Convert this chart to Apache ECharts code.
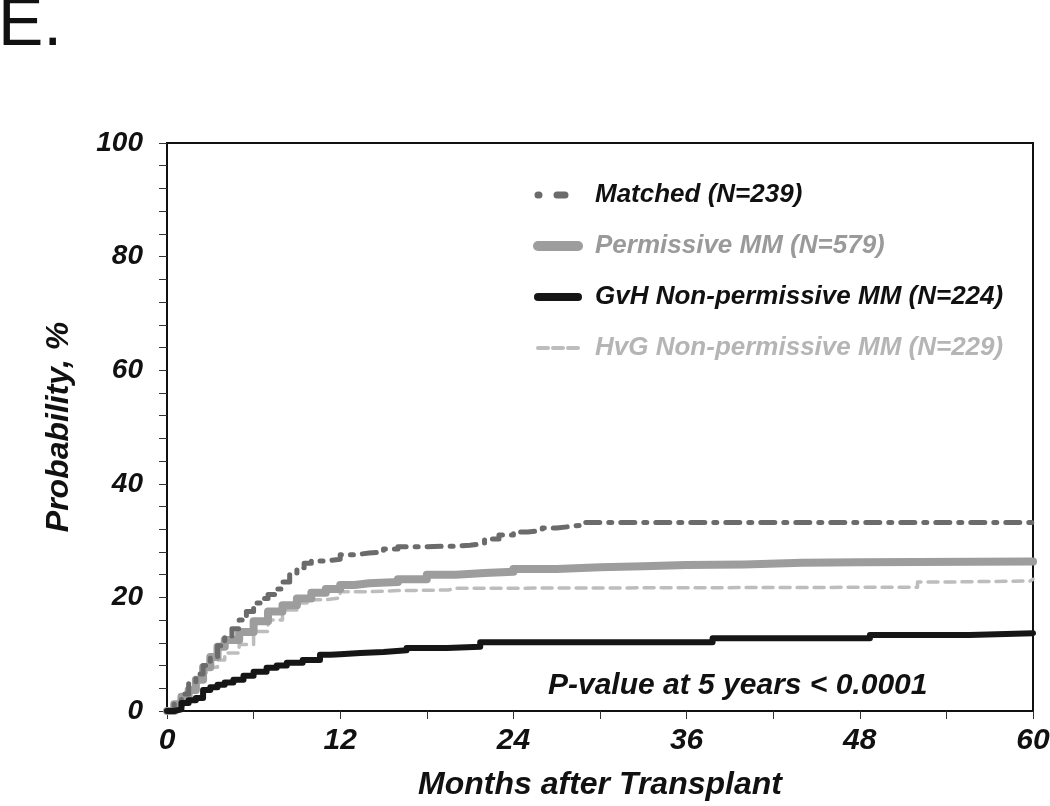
<!DOCTYPE html>
<html>
<head>
<meta charset="utf-8">
<script src="https://cdn.jsdelivr.net/npm/echarts@6/dist/echarts.min.js"></script>
<style>html,body{margin:0;padding:0;background:#fff;}#c{width:1050px;height:806px;}</style>
</head>
<body>
<div id="c"></div>
<script>
// ---- data (months after transplant, cumulative probability %) ----
const matchedMonths = [0, 0.5, 1, 1.5, 2, 2.5, 3, 3.5, 4, 4.5, 5, 5.5, 6, 6.5, 7, 7.5, 8, 8.5, 9, 9.5, 10, 11, 12, 13, 14, 15, 16, 18, 19, 20, 21, 22, 23, 24, 25, 26, 27, 28, 29, 60];
const matchedProb   = [0, 1.5, 3, 5, 6.5, 8, 9.5, 11.5, 13, 14.5, 16, 17.5, 19, 19.8, 20.5, 21.5, 22.7, 24, 25.2, 26, 26.4, 26.7, 27.5, 27.8, 28, 28.5, 28.9, 29, 29, 29.2, 29.5, 30.3, 31, 31.5, 31.8, 32.2, 32.5, 32.8, 33.2, 33.2];

const permMonths = [0, 0.5, 1, 1.5, 2, 2.5, 3, 3.5, 4, 5, 6, 7, 8, 9, 10, 11, 12, 13, 14, 16, 18, 20, 22, 24, 27, 30, 33, 36, 40, 44, 48, 60];
const permProb   = [0, 1.2, 2.5, 3.7, 5.5, 7.7, 9.5, 11.3, 12.5, 13.9, 15.8, 17.5, 18.6, 19.8, 20.8, 21.5, 22.2, 22.5, 22.7, 23.2, 24, 24.3, 24.5, 25, 25.3, 25.5, 25.7, 25.8, 26.1, 26.2, 26.3, 26.3];

const gvhMonths = [0, 0.5, 1, 1.5, 2, 2.5, 3, 3.5, 4, 4.6, 5.3, 6, 6.9, 7.6, 8.3, 9.4, 10.6, 11.3, 12, 13.4, 15, 16.6, 19.4, 21.7, 37.8, 48.7, 55.6, 60];
const gvhProb   = [0, 0.3, 1.4, 1.9, 2.3, 3.7, 4.2, 4.6, 5.0, 5.5, 6.2, 6.9, 7.6, 8.0, 8.5, 9.0, 9.9, 10.0, 10.2, 10.4, 10.7, 11.1, 11.3, 12.1, 12.8, 13.4, 13.7, 13.7];

const hvgMonths = [0, 0.5, 1, 1.5, 2, 2.5, 3, 3.5, 4, 5, 6, 7, 8, 9, 10, 11, 12, 14, 16, 19.5, 20, 52, 54, 59.8, 60];
const hvgProb   = [0, 1.5, 3, 4.3, 5.5, 6.8, 7.7, 9, 10.2, 11.7, 14, 16, 17.8, 19, 19.6, 19.9, 21, 21.2, 21.3, 21.6, 21.8, 22.7, 22.9, 23.2, 23.2];

const seriesNames = ['Matched (N=239)', 'Permissive MM (N=579)', 'GvH Non-permissive MM (N=224)', 'HvG Non-permissive MM (N=229)'];
const xTicks = [0, 12, 24, 36, 48, 60];
const yTicks = [0, 20, 40, 60, 80, 100];
const pValueText = 'P-value at 5 years < 0.0001';
const panelLabel = 'E.';

const zip = (a, b) => a.map((v, i) => [v, b[i]]);
const FONT = '"Liberation Sans", Arial, sans-serif';

const styles = [
  { color: '#6b6b6b', width: 5, type: [14, 9, 3, 9], legendType: [1, 18, 8, 40], text: '#111', z: 4 },
  { color: '#9d9d9d', width: 8, type: 'solid', legendType: 'solid', text: '#9a9a9a', z: 3 },
  { color: '#161616', width: 6, type: 'solid', legendType: 'solid', text: '#111', z: 5 },
  { color: '#bdbdbd', width: 3.5, type: [10, 7], legendType: [10, 5], text: '#b5b5b5', z: 2 }
];
const datasets = [zip(matchedMonths, matchedProb), zip(permMonths, permProb), zip(gvhMonths, gvhProb), zip(hvgMonths, hvgProb)];

const chart = echarts.init(document.getElementById('c'), null, { renderer: 'canvas' });
chart.setOption({
  animation: false,
  backgroundColor: '#fff',
  title: [{
    text: panelLabel, left: -7, top: -13,
    textStyle: { fontFamily: FONT, fontSize: 68, fontWeight: 'normal', color: '#111' }
  }],
  grid: { left: 167, right: 17, top: 143, bottom: 95, show: true, borderColor: '#111', borderWidth: 2,
    containLabel: false, outerBoundsMode: 'none' },
  legend: {
    orient: 'vertical', left: 528, top: 177, itemWidth: 40, itemHeight: 24, itemGap: 25,
    textStyle: { fontFamily: FONT, fontSize: 26, fontWeight: 'bold', fontStyle: 'italic', padding: [0, 0, 0, 12] },
    data: seriesNames.map((n, i) => ({
      name: n,
      textStyle: { color: styles[i].text },
      itemStyle: { opacity: 0 },
      lineStyle: { width: i === 3 ? 4 : styles[i].width + 2, type: styles[i].legendType, color: styles[i].color, cap: 'round', opacity: 1 }
    }))
  },
  xAxis: {
    type: 'value', min: 0, max: 60, interval: 12,
    name: 'Months after Transplant', nameLocation: 'middle', nameGap: 58,
    nameTextStyle: { fontFamily: FONT, fontSize: 32, fontWeight: 'bold', fontStyle: 'italic', color: '#111' },
    axisLine: { lineStyle: { color: '#111', width: 2 } },
    axisTick: { show: true, length: 8, inside: false, lineStyle: { color: '#333', width: 1 } },
    minorTick: { show: true, splitNumber: 2, length: 8, lineStyle: { color: '#333', width: 1 } },
    splitLine: { show: false },
    axisLabel: { margin: 15, fontFamily: FONT, fontSize: 30, fontWeight: 'bold', fontStyle: 'italic', color: '#111',
      formatter: v => xTicks.includes(v) ? String(v) : '' }
  },
  yAxis: {
    type: 'value', min: 0, max: 100, interval: 20,
    name: 'Probability, %', nameLocation: 'middle', nameGap: 92, nameRotate: 90,
    nameTextStyle: { fontFamily: FONT, fontSize: 32, fontWeight: 'bold', fontStyle: 'italic', color: '#111' },
    axisLine: { lineStyle: { color: '#111', width: 2 } },
    axisTick: { show: true, length: 8, lineStyle: { color: '#333', width: 1 } },
    minorTick: { show: true, splitNumber: 5, length: 8, lineStyle: { color: '#333', width: 1 } },
    splitLine: { show: false },
    axisLabel: { margin: 24, fontFamily: FONT, fontSize: 28, fontWeight: 'bold', fontStyle: 'italic', color: '#111',
      formatter: v => yTicks.includes(v) ? String(v) : '' }
  },
  graphic: [{
    type: 'text', left: 548, top: 671, z: 10,
    style: { text: pValueText, fontFamily: FONT, fontSize: 30, fontWeight: 'bold', fontStyle: 'italic', fill: '#111' }
  }],
  series: seriesNames.map((n, i) => ({
    name: n, type: 'line', step: 'end', showSymbol: false, symbol: 'none', z: styles[i].z,
    data: datasets[i],
    lineStyle: { color: styles[i].color, width: styles[i].width, type: styles[i].type, cap: 'round', join: 'round' },
    itemStyle: { color: styles[i].color }
  }))
});
</script>
</body>
</html>
